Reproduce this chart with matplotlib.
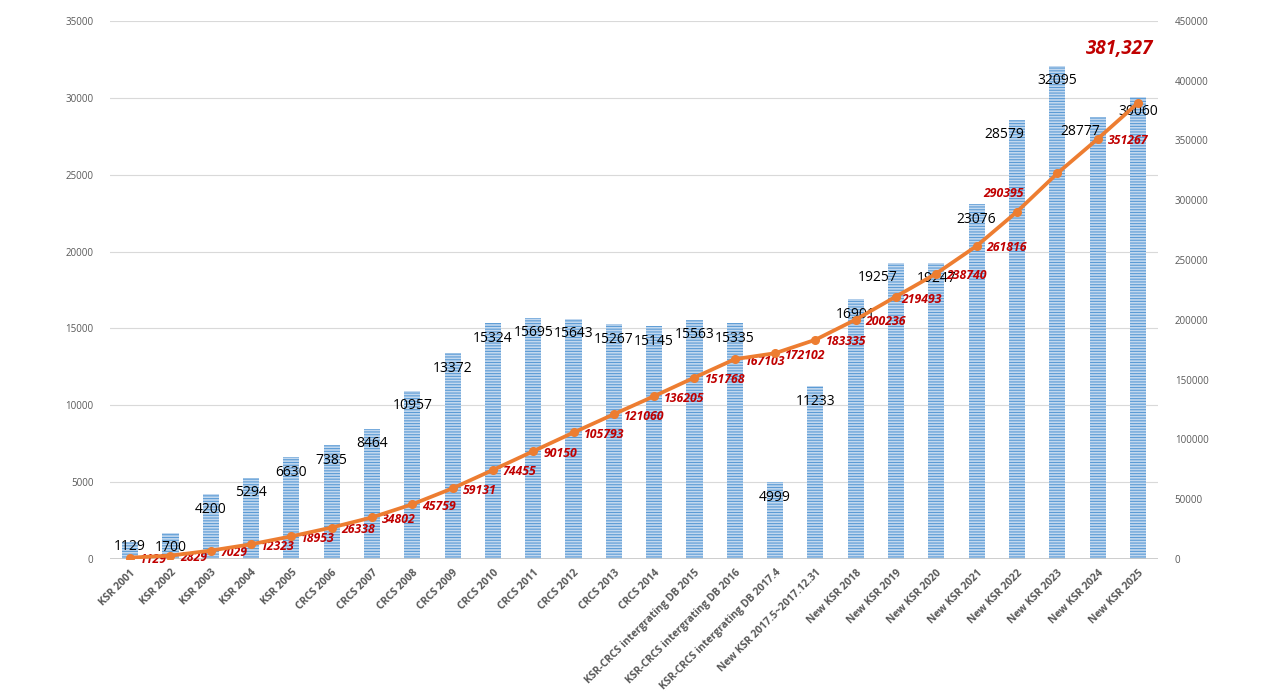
import numpy as np
import matplotlib
matplotlib.use('Agg')
from matplotlib import pyplot as plt

# categories and yearly counts
categories = ['KSR 2001', 'KSR 2002', 'KSR 2003', 'KSR 2004', 'KSR 2005',
              'CRCS 2006', 'CRCS 2007', 'CRCS 2008', 'CRCS 2009', 'CRCS 2010',
              'CRCS 2011', 'CRCS 2012', 'CRCS 2013', 'CRCS 2014',
              'KSR-CRCS intergrating DB 2015', 'KSR-CRCS intergrating DB 2016',
              'KSR-CRCS intergrating DB 2017.4', 'New KSR 2017.5~2017.12.31',
              'New KSR 2018', 'New KSR 2019', 'New KSR 2020', 'New KSR 2021',
              'New KSR 2022', 'New KSR 2023', 'New KSR 2024', 'New KSR 2025']
yearly = [1129, 1700, 4200, 5294, 6630, 7385, 8464, 10957, 13372, 15324,
          15695, 15643, 15267, 15145, 15563, 15335, 4999, 11233, 16901, 19257,
          19247, 23076, 28579, 32095, 28777, 30060]
cumulative = [1129, 2829, 7029, 12323, 18953, 26338, 34802, 45759, 59131, 74455,
              90150, 105793, 121060, 136205, 151768, 167103, 172102, 183335,
              200236, 219493, 238740, 261816, 290395, 322490, 351267, 381327]
left_ticks = np.arange(0, 35001, 5000)
right_ticks = np.arange(0, 450001, 50000)

# label nudges (pixels) where the original moved them
bar_label_offset = {0: (0, -5), 19: (-18, -15), 22: (-13, -15), 24: (-17, -15)}
cum_label_offset = {19: (5, -3), 22: (-34, 18)}
cum_label_skip = {23, 25}

plt.rcParams['font.family'] = ['Open Sans', 'DejaVu Sans']
plt.rcParams['hatch.linewidth'] = 0.8

fig = plt.figure(figsize=(12.73, 6.97), dpi=100)
ax = fig.add_axes([0.0864, 0.198, 0.8233, 0.772])
ax2 = ax.twinx()

x = np.arange(len(categories))
ax.bar(x, yearly, width=0.4, color='#c2d8ef', edgecolor='#5b9bd5',
       linewidth=0, hatch='------', zorder=2)

ax.set_xlim(-0.5, len(categories) - 0.5)
ax.set_ylim(0, 35000)
ax.set_yticks(left_ticks)
ax.grid(axis='y', color='#d9d9d9', linewidth=0.8, zorder=0)
ax.set_axisbelow(True)

for i, v in enumerate(yearly):
    ax.annotate(str(v), (i, v), xytext=bar_label_offset.get(i, (0, -15)),
                textcoords='offset pixels', ha='center', va='center',
                fontsize=10, color='black', zorder=5)

ax2.plot(x, cumulative, color='#ed7d31', linewidth=2.7, marker='o',
         markersize=5.5, zorder=4)
ax2.set_ylim(0, 450000)
ax2.set_yticks(right_ticks)

for i, v in enumerate(cumulative):
    if i in cum_label_skip:
        continue
    dx, dy = cum_label_offset.get(i, (10, -2))
    ax2.annotate(str(v), (i, v), xytext=(dx, dy), textcoords='offset pixels',
                 ha='left', va='center', fontsize=8.8, color='#c00000',
                 fontweight='bold', fontstyle='italic')

# grand total in the top right corner
ax2.annotate(f'{cumulative[-1]:,}', (x[-1], cumulative[-1]), xytext=(15, 54),
             textcoords='offset pixels', ha='right', va='center', fontsize=13.5,
             color='#c00000', fontweight='bold', fontstyle='italic')

ax.set_xticks(x)
ax.set_xticklabels(categories, rotation=45, ha='right', rotation_mode='anchor',
                   fontsize=7.5, fontweight='bold', color='#595959')

for a in (ax, ax2):
    for s in a.spines.values():
        s.set_visible(False)
    a.tick_params(length=0, labelsize=7, labelcolor='#595959')
ax.tick_params(axis='y', pad=12)
ax2.tick_params(axis='y', pad=12)
ax.tick_params(axis='x', labelsize=7.5, pad=6)
ax.axhline(0, color='#bfbfbf', linewidth=1.8, zorder=3)

fig.savefig('out.png', dpi=100)
